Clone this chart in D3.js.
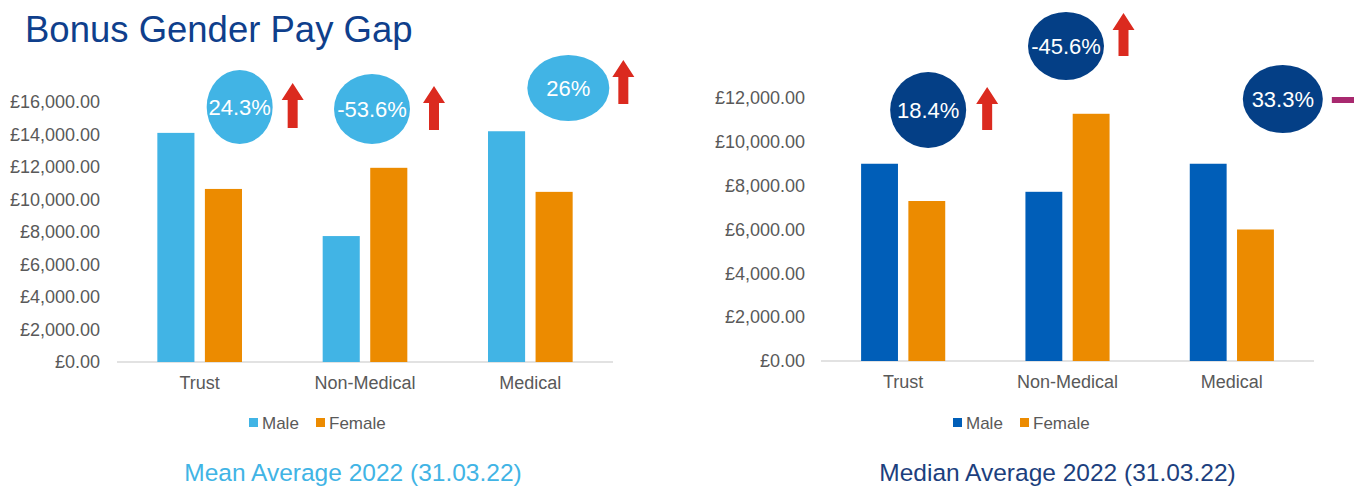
<!DOCTYPE html>
<html>
<head>
<meta charset="utf-8">
<script src="https://cdn.jsdelivr.net/npm/d3@7"></script>
<style>
  body { margin: 0; background: #fff; }
  svg { font-family: "Liberation Sans", Arial, sans-serif; }
</style>
</head>
<body>
<div id="chart"></div>
<script>
// ---- data ----------------------------------------------------------------
const categories = ['Trust', 'Non-Medical', 'Medical'];
const seriesNames = ['Male', 'Female'];

const meanMale   = [14100, 7750, 14200];
const meanFemale = [10650, 11950, 10470];
const meanGap    = ['24.3%', '-53.6%', '26%'];
const meanTrend  = ['up', 'up', 'up'];

const medianMale   = [9000, 7720, 9000];
const medianFemale = [7300, 11280, 6000];
const medianGap    = ['18.4%', '-45.6%', '33.3%'];
const medianTrend  = ['up', 'up', 'flat'];

const meanTicks   = [0, 2000, 4000, 6000, 8000, 10000, 12000, 14000, 16000];
const medianTicks = [0, 2000, 4000, 6000, 8000, 10000, 12000];

// ---- layout --------------------------------------------------------------
const W = 1354, H = 486;
const RED = '#db2a1f', ORANGE = '#ec8b00', GREY = '#595959';

const svg = d3.select('#chart').append('svg')
    .attr('width', W).attr('height', H)
    .attr('viewBox', `0 0 ${W} ${H}`);

svg.append('text')
    .attr('x', 25).attr('y', 42)
    .attr('font-size', 36.5)
    .attr('fill', '#0f3f8c')
    .text('Bonus Gender Pay Gap');

function panel(cfg) {
    const x0 = d3.scaleBand().domain(categories)
        .range(cfg.xRange).paddingInner(0.488).paddingOuter(0.244);
    const x1 = d3.scaleBand().domain(seriesNames)
        .range([0, x0.bandwidth()]).paddingInner(0.22);
    const y = d3.scaleLinear().domain([0, d3.max(cfg.ticks)]).range(cfg.yRange);
    const color = d3.scaleOrdinal().domain(seriesNames).range([cfg.maleColor, ORANGE]);
    const centre = c => x0(c) + x0.bandwidth() / 2;

    const g = svg.append('g');

    // y axis labels (no line)
    const yAxis = g.append('g')
        .attr('transform', `translate(${cfg.labelRight + 9},0)`)
        .call(d3.axisLeft(y).tickValues(cfg.ticks).tickSize(0).tickPadding(9)
            .tickFormat(d => '£' + d3.format(',.2f')(d)));
    yAxis.select('.domain').remove();
    yAxis.selectAll('text')
        .attr('font-size', 18).attr('fill', GREY)
        .attr('font-family', '"Liberation Sans", Arial, sans-serif');

    // baseline + category labels
    const xAxis = g.append('g')
        .attr('transform', `translate(0,${cfg.yRange[0]})`)
        .call(d3.axisBottom(x0).tickSize(0).tickPadding(14));
    xAxis.select('.domain')
        .attr('d', `M${cfg.baseline[0]},0H${cfg.baseline[1]}`)
        .attr('stroke', '#d9d9d9').attr('stroke-width', 1.5);
    xAxis.selectAll('text')
        .attr('font-size', 18).attr('fill', GREY)
        .attr('font-family', '"Liberation Sans", Arial, sans-serif');

    // bars
    const rows = categories.map((c, i) => ({ cat: c, Male: cfg.male[i], Female: cfg.female[i] }));
    g.append('g').selectAll('g')
        .data(rows).join('g')
        .attr('transform', d => `translate(${x0(d.cat)},0)`)
        .selectAll('rect')
        .data(d => seriesNames.map(s => ({ s, v: d[s] })))
        .join('rect')
        .attr('x', d => x1(d.s))
        .attr('width', x1.bandwidth())
        .attr('y', d => y(d.v))
        .attr('height', d => y(0) - y(d.v))
        .attr('fill', d => color(d.s));

    // gap bubbles
    categories.forEach((c, i) => {
        const b = cfg.bubbles[i];
        const cx = centre(c) + b.dx;
        g.append('ellipse')
            .attr('cx', cx).attr('cy', b.cy)
            .attr('rx', b.rx).attr('ry', b.ry)
            .attr('fill', cfg.bubbleColor);
        g.append('text')
            .attr('x', cx).attr('y', b.cy + 8)
            .attr('text-anchor', 'middle')
            .attr('font-size', 22).attr('fill', '#fff')
            .text(cfg.gap[i]);

        const a = cfg.arrows[i];
        const ax = centre(c) + a.dx;
        if (cfg.trend[i] === 'up') {
            const hw = 11, sw = 5, hh = 17;
            g.append('path')
                .attr('d', `M${ax},${a.top} L${ax + hw},${a.top + hh} L${ax + sw},${a.top + hh}
                            L${ax + sw},${a.bottom} L${ax - sw},${a.bottom} L${ax - sw},${a.top + hh}
                            L${ax - hw},${a.top + hh} Z`)
                .attr('fill', RED);
        } else {
            g.append('rect')
                .attr('x', ax - 11).attr('y', a.top - 3)
                .attr('width', 24).attr('height', 6)
                .attr('fill', '#a8296f');
        }
    });

    // legend
    const lg = g.append('g').attr('transform', `translate(${cfg.legendX},429)`);
    const items = lg.selectAll('g').data(seriesNames).join('g')
        .attr('transform', (d, i) => `translate(${i * 67},0)`);
    items.append('rect').attr('x', 0).attr('y', -11).attr('width', 9).attr('height', 9)
        .attr('fill', d => color(d));
    items.append('text').attr('x', 13).attr('y', 0)
        .attr('font-size', 17).attr('fill', GREY)
        .text(d => d);

    // subtitle
    g.append('text')
        .attr('x', (cfg.baseline[0] + cfg.baseline[1]) / 2 - cfg.subShift).attr('y', 481)
        .attr('text-anchor', 'middle')
        .attr('font-size', 24.5).attr('fill', cfg.subColor)
        .text(cfg.subtitle);
}

panel({
    xRange: [117, 613], baseline: [117, 613], yRange: [362, 102], ticks: meanTicks,
    labelRight: 100, male: meanMale, female: meanFemale, gap: meanGap, trend: meanTrend,
    maleColor: '#41b4e5', bubbleColor: '#41b4e5',
    bubbles: [{ dx: 40, cy: 107, rx: 33, ry: 37 }, { dx: 7, cy: 109, rx: 38, ry: 35 }, { dx: 38, cy: 88, rx: 41, ry: 33 }],
    arrows: [{ dx: 93, top: 83, bottom: 128 }, { dx: 69, top: 86, bottom: 130 }, { dx: 93, top: 60, bottom: 104 }],
    legendX: 249, subtitle: 'Mean Average 2022 (31.03.22)', subColor: '#41b4e5', subShift: 12
});

panel({
    xRange: [821, 1314], baseline: [821, 1314], yRange: [361, 98], ticks: medianTicks,
    labelRight: 805, male: medianMale, female: medianFemale, gap: medianGap, trend: medianTrend,
    maleColor: '#005eb8', bubbleColor: '#043f86',
    bubbles: [{ dx: 25, cy: 110, rx: 38, ry: 38 }, { dx: -1.5, cy: 46, rx: 38, ry: 34 }, { dx: 51, cy: 99, rx: 40, ry: 34 }],
    arrows: [{ dx: 84, top: 87, bottom: 130 }, { dx: 56, top: 13, bottom: 56 }, { dx: 111, top: 100, bottom: 100 }],
    legendX: 953, subtitle: 'Median Average 2022 (31.03.22)', subColor: '#1c3f7e', subShift: 10
});
</script>
</body>
</html>
